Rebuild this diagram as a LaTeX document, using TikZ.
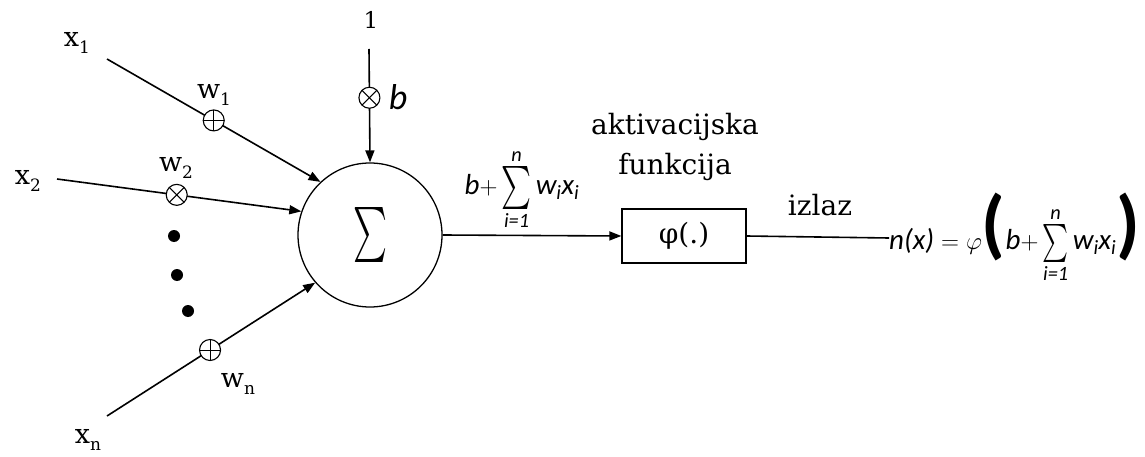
\documentclass[tikz,border=0pt]{standalone}
\usepackage{fontspec}
\usepackage{amsmath}
\usepackage{graphicx}
\setmainfont{DejaVu Serif}
\newfontfamily\calfont{Carlito}
\usetikzlibrary{arrows.meta}
\newcommand\ci[1]{\text{\calfont\itshape #1}}
\newcommand\xsub[2]{#1\raisebox{-7pt}{\fontsize{17}{17}\selectfont #2}}
\newcommand\bigsum[2]{\mathop{\vcenter{\hbox{\resizebox*{#1}{#2}{$\sum$}}}}}
\begin{document}
\begin{tikzpicture}[x=1pt,y=-1pt,
  lbl/.style={font=\fontsize{27}{27}\selectfont, inner sep=0pt},
  conn/.style={line width=1.6pt, -{Triangle[length=12pt,width=9pt]}},
  wcirc/.style={circle, draw, line width=1.1pt, minimum size=21pt, inner sep=0pt, fill=white},
  otimesc/.style={wcirc, path picture={\draw[-, line width=1pt] (path picture bounding box.center) ++(45:10.5pt) -- ++(225:21pt); \draw[-, line width=1pt] (path picture bounding box.center) ++(135:10.5pt) -- ++(315:21pt);}},
  opluscirc/.style={wcirc, path picture={\draw[-, line width=1pt] (path picture bounding box.center) ++(0,10.5pt) -- ++(0,-21pt); \draw[-, line width=1pt] (path picture bounding box.center) ++(10.5pt,0) -- ++(-21pt,0);}},
  dotn/.style={circle, fill=black, minimum size=12pt, inner sep=0pt},
  frm/.style={inner sep=0pt, font=\fontsize{29}{29}\selectfont}
]
\useasboundingbox (0,0) rectangle (1145,457);

% summation node
\node[circle, draw, line width=1.3pt, minimum size=144pt, inner sep=0pt] (S) at (370,235) {\resizebox*{34pt}{55pt}{$\sum$}};

% inputs
\node[lbl] (x1) at (77,43) {\xsub{x}{1}};
\node[lbl] (x2) at (28,181) {\xsub{x}{2}};
\node[lbl] (xn) at (88,440) {\xsub{x}{n}};
\node[lbl, font=\fontsize{23}{23}\selectfont] (one) at (371,20) {1};

\coordinate (s1) at (107,59);
\coordinate (s2) at (57,179);
\coordinate (sn) at (107,416);
\coordinate (sb) at (369,49);

\draw[conn] (s1) -- node[opluscirc, pos=0.5] (m1) {} (S.133);
\draw[conn] (s2) -- node[otimesc, pos=0.49] (m2) {} (S.161);
\draw[conn] (sn) -- node[opluscirc, pos=0.495] (mn) {} (S.221);
\draw[conn] (sb) -- node[otimesc, pos=0.43] (mb) {} (S.90);

\node[lbl] (w1) at (214,95) {\xsub{w}{1}};
\node[lbl] (w2) at (176,168) {\xsub{w}{2}};
\node[lbl] (wn) at (238,384) {\xsub{w}{n}};
\node[inner sep=0pt, font=\fontsize{36}{36}\selectfont\calfont\itshape] (b) at (398,97) {b};

\node[dotn] (d1) at (174,236) {};
\node[dotn] (d2) at (177,275) {};
\node[dotn] (d3) at (188,311) {};

% activation
\node[draw, line width=1.3pt, minimum width=124pt, minimum height=54pt, inner sep=0pt, font=\fontsize{28}{28}\selectfont] (phi) at (684,236) {φ(.)};
\draw[conn] (S.0) -- (phi.west);
\node[inner sep=0pt, font=\fontsize{28}{28}\selectfont] (act) at (675,127) {aktivacijska};
\node[inner sep=0pt, font=\fontsize{28}{28}\selectfont] (fun) at (675,167) {funkcija};

\node[frm] (net) at (522,190) {$\ci{b}{+}\bigsum{30pt}{43pt}\limits_{\ci{i=1}}^{\ci{n}}\ci{w}_{\ci{i}}\ci{x}_{\ci{i}}$};

% output
\node[inner sep=0pt, font=\fontsize{28}{28}\selectfont] (izl) at (820,205) {izlaz};
\node[frm, anchor=west] (out) at (889,238) {$\ci{n(x)} = \varphi\text{\resizebox*{!}{68pt}{\calfont\bfseries(}}\ci{b}{+}\bigsum{26pt}{38pt}\limits_{\ci{i=1}}^{\ci{n}}\ci{w}_{\ci{i}}\ci{x}_{\ci{i}}\text{\resizebox*{!}{68pt}{\calfont\bfseries)}}$};
\draw[line width=1.6pt] (phi.east) -- (out.west);
\end{tikzpicture}
\end{document}
